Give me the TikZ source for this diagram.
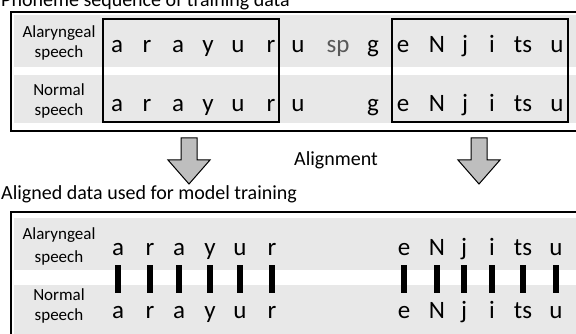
\documentclass[tikz,border=0pt]{standalone}
\usepackage{fontspec}
\setmainfont{Carlito}
\begin{document}
\begin{tikzpicture}[x=1pt,y=-1pt,
  outerbox/.style={draw=black,line width=2pt},
  innerbox/.style={draw=black,line width=1.1pt},
  band/.style={fill=rowgray,draw=none},
  lbl/.style={anchor=base,inner sep=0pt,font=\fontsize{17}{20}\selectfont},
  ph/.style={anchor=base,inner sep=0pt,font=\fontsize{25}{29}\selectfont},
  ttl/.style={anchor=base west,inner sep=0pt,font=\fontsize{20}{24}\selectfont},
  bar/.style={line width=6pt,black},
  bigarrow/.style={draw=black,line width=1pt,fill=arrowgray}]
\definecolor{rowgray}{HTML}{E8E8E8}
\definecolor{arrowgray}{HTML}{BEBEBE}
\definecolor{spgray}{HTML}{595959}
\useasboundingbox (0,0) rectangle (576,334);
\begin{scope}
\clip (0,0) rectangle (576,334);
% ---------- titles ----------
\node[ttl] (t1) at (1,7) {Phoneme sequence of training data};
\node[ttl] (t2) at (1,200) {Aligned data used for model training};
\node[ttl,anchor=base] (al) at (336,166) {Alignment};
% ---------- top panel ----------
\fill[band] (14,15) rectangle (580,67);
\fill[band] (14,75) rectangle (580,123);
\draw[outerbox] (11,12) rectangle (580,131);
\draw[innerbox] (103,19) rectangle (279,122);
\draw[innerbox] (392,19) rectangle (568,122);
\node[lbl] (la1) at (59,38) {Alaryngeal};
\node[lbl] (la2) at (59,58) {speech};
\node[lbl] (ln1) at (59,96) {Normal};
\node[lbl] (ln2) at (59,116) {speech};
% row 1
\foreach \x/\t/\n in {117/a/1,147/r/2,178/a/3,208/y/4,238/u/5,271/r/6,298/u/7,373/g/9,403/e/10,437/N/11,465/j/12,492/i/13,523/ts/14,557/u/15}
  \node[ph] (ta\n) at (\x,53) {\t};
\node[ph,text=spgray] (ta8) at (338,53) {sp};
% row 2
\foreach \x/\t/\n in {117/a/1,147/r/2,178/a/3,208/y/4,238/u/5,271/r/6,298/u/7,373/g/9,403/e/10,437/N/11,465/j/12,492/i/13,523/ts/14,557/u/15}
  \node[ph] (tb\n) at (\x,112) {\t};
% ---------- arrows ----------
\draw[bigarrow] (181,138) -- (197,138) -- (197,160) -- (210,160) -- (189,184) -- (168,160) -- (181,160) -- cycle;
\draw[bigarrow] (471,138) -- (487,138) -- (487,160) -- (500,160) -- (479,184) -- (458,160) -- (471,160) -- cycle;
% ---------- bottom panel ----------
\fill[band] (14,218) rectangle (580,270);
\fill[band] (14,285) rectangle (580,340);
\draw[outerbox] (11,212) rectangle (580,345);
\node[lbl] (ma1) at (59,240) {Alaryngeal};
\node[lbl] (ma2) at (59,262) {speech};
\node[lbl] (mn1) at (59,300) {Normal};
\node[lbl] (mn2) at (59,320) {speech};
\foreach \x/\t/\n in {118/a/1,150/r/2,179/a/3,210/y/4,240/u/5,272/r/6,404/e/7,437/N/8,464/j/9,492/i/10,523/ts/11,556/u/12}{
  \node[ph] (ba\n) at (\x,255) {\t};
  \node[ph] (bb\n) at (\x,318) {\t};
  \draw[bar] (ba\n.base) ++(0,10) -- ++(0,28);
}
\end{scope}
\end{tikzpicture}
\end{document}
